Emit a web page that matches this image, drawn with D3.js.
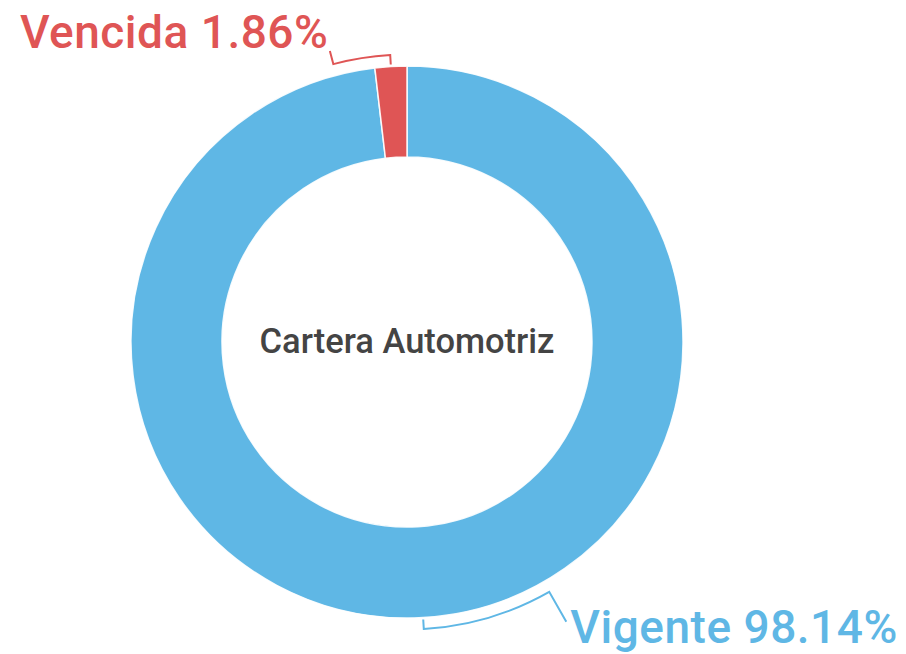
<!DOCTYPE html>
<html><head><meta charset="utf-8">
<script src="https://cdn.jsdelivr.net/npm/d3@7"></script>
<style>html,body{margin:0;padding:0;background:#fff;}svg{display:block;}</style>
</head><body>
<svg id="c" width="906" height="654"></svg>
<script>
const categories = ["Vigente", "Vencida"];
const values = [98.14, 1.86];
const colors = ["#5fb7e5", "#df5555"];
const centerTitle = "Cartera Automotriz";

const W = 906, H = 654, cx = 407, cy = 342, R = 276, r0 = 185;
const svg = d3.select("#c");
const g = svg.append("g").attr("transform", `translate(${cx},${cy})`);

const pie = d3.pie().sort(null).value(d => d.v).startAngle(0).endAngle(2*Math.PI);
const data = pie(categories.map((c,i) => ({c, v: values[i], col: colors[i]})));
const arc = d3.arc().innerRadius(r0).outerRadius(R);

g.selectAll("path.s").data(data).join("path").attr("class","s")
  .attr("d", arc).attr("fill", d => d.data.col)
  .attr("stroke", "#ffffff").attr("stroke-width", 1.5).attr("stroke-opacity", 0.9);

// leader lines
const leader = {Vigente: {sweep: 26.3, rOut: 322}, Vencida: {sweep: 11.5, rOut: 301}};
const rTick0 = 278, rArc = 287.5;
const pt = (a, r) => [r*Math.sin(a), -r*Math.cos(a)];
data.forEach(d => {
  const m = (d.startAngle + d.endAngle)/2;
  const L = leader[d.data.c];
  const a1 = m - L.sweep*Math.PI/180;
  const p = d3.path();
  const t0 = pt(m, rTick0);
  p.moveTo(t0[0], t0[1]);
  const t1 = pt(m, rArc);
  p.lineTo(t1[0], t1[1]);
  p.arc(0, 0, rArc, m - Math.PI/2, a1 - Math.PI/2, true);
  const e = pt(a1, L.rOut);
  p.lineTo(e[0], e[1]);
  g.append("path").attr("d", p.toString()).attr("fill","none")
    .attr("stroke", d.data.col).attr("stroke-width", 2);
  const label = `${d.data.c} ${d.data.v.toFixed(2)}%`;
  const isRight = Math.sin(a1) > 0;
  const t = g.append("text")
    .attr("x", isRight ? e[0] + 4 : e[0] - 2)
    .attr("y", isRight ? e[1] + 21 : e[1] - 3)
    .attr("text-anchor", isRight ? "start" : "end")
    .attr("font-family", "Roboto, sans-serif")
    .attr("font-weight", 500)
    .attr("font-size", 46)
    .attr("fill", d.data.col)
    .text(label);
  t.attr("textLength", isRight ? 327 : 308).attr("lengthAdjust", "spacing");
});

g.append("text").attr("x", 0).attr("y", 11).attr("text-anchor","middle")
  .attr("font-family","Roboto, sans-serif").attr("font-weight", 500)
  .attr("font-size", 34.5).attr("fill", "#444444").text(centerTitle);
</script>
</body></html>
